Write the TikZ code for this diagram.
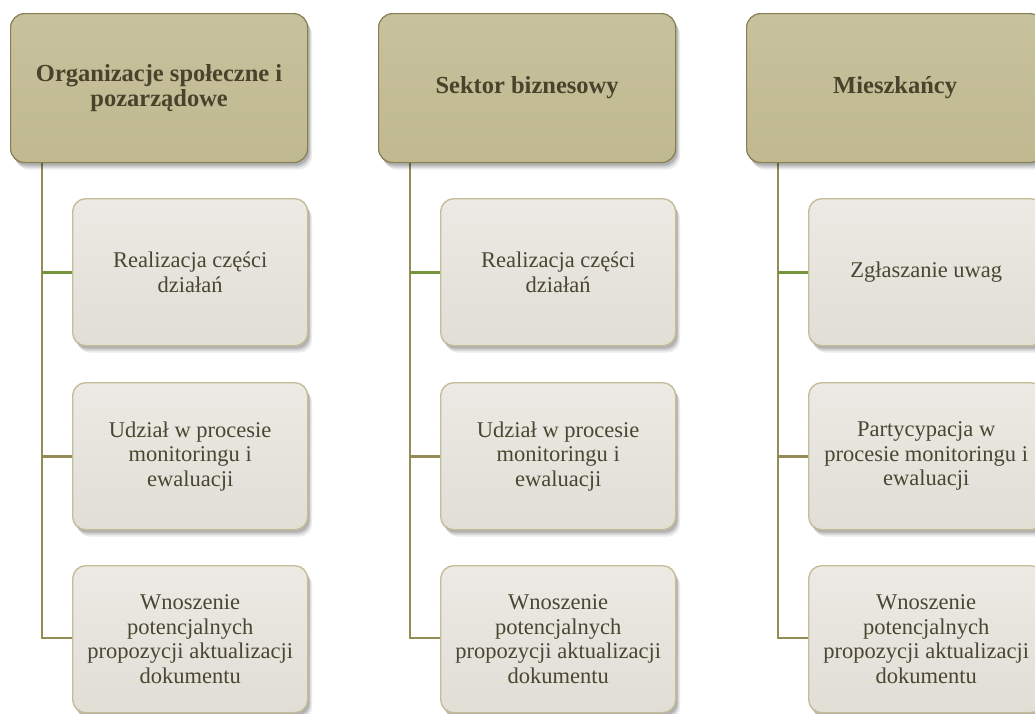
\documentclass[tikz,border=0pt]{standalone}
\usepackage{fontspec}
\setmainfont{Liberation Serif}
\usetikzlibrary{shadows}
\definecolor{headfill}{HTML}{C4BD97}
\definecolor{headtop}{HTML}{C7C19D}
\definecolor{headbot}{HTML}{C0B990}
\definecolor{headborder}{HTML}{857E50}
\definecolor{headtext}{HTML}{48432A}
\definecolor{childtop}{HTML}{EBEAE4}
\definecolor{childbot}{HTML}{E0DED5}
\definecolor{childborder}{HTML}{C4BD97}
\definecolor{childtext}{HTML}{4A4632}
\definecolor{conn}{HTML}{968C55}
\definecolor{conngreen}{HTML}{77933C}
\tikzset{
  softshadow/.style={
    drop shadow={shadow xshift=2pt,shadow yshift=-3pt,opacity=.14,fill=black},
    drop shadow={shadow xshift=3pt,shadow yshift=-5pt,opacity=.12,fill=black},
    drop shadow={shadow xshift=4.5pt,shadow yshift=-7pt,opacity=.08,fill=black}},
  headbox/.style={softshadow, rounded corners=14pt, top color=headtop, bottom color=headbot,
    draw=headborder, line width=1.2pt, minimum width=297pt, minimum height=149pt,
    anchor=north west, align=center, text=headtext, font=\fontsize{24.5}{25}\selectfont\bfseries},
  childbox/.style={softshadow, rounded corners=13pt, top color=childtop, bottom color=childbot,
    draw=childborder, line width=1.4pt, minimum width=235pt, minimum height=147pt,
    anchor=north west, align=center, text=childtext, font=\fontsize{22.5}{24.5}\selectfont},
  connline/.style={draw=conn, line width=2.6pt},
  conngreenline/.style={draw=conngreen, line width=2.6pt}
}
\begin{document}
\begin{tikzpicture}[x=1pt,y=-1pt]
\useasboundingbox (0,0) rectangle (1035,713);
\coordinate (v1) at (42,162);
\coordinate (v2) at (410,162);
\coordinate (v3) at (778,162);
\draw[connline] (v1) |- (72,638) coordinate (e1);
\draw[connline] (v2) |- (440,638) coordinate (e2);
\draw[connline] (v3) |- (808,638) coordinate (e3);

\node[headbox] (h1) at (10,13) {Organizacje społeczne i\\pozarządowe};
\node[headbox] (h2) at (378,13) {Sektor biznesowy};
\node[headbox] (h3) at (746,13) {Mieszkańcy};

\node[childbox] (c11) at (72,198) {Realizacja części\\działań};
\node[childbox] (c12) at (72,382) {Udział w procesie\\monitoringu i\\ewaluacji};
\node[childbox] (c13) at (72,565) {Wnoszenie\\potencjalnych\\propozycji aktualizacji\\dokumentu};

\node[childbox] (c21) at (440,198) {Realizacja części\\działań};
\node[childbox] (c22) at (440,382) {Udział w procesie\\monitoringu i\\ewaluacji};
\node[childbox] (c23) at (440,565) {Wnoszenie\\potencjalnych\\propozycji aktualizacji\\dokumentu};

\node[childbox] (c31) at (808,198) {Zgłaszanie uwag};
\node[childbox] (c32) at (808,382) {Partycypacja w\\procesie monitoringu i\\ewaluacji};
\node[childbox] (c33) at (808,565) {Wnoszenie\\potencjalnych\\propozycji aktualizacji\\dokumentu};

\draw[conngreenline] (c11.west -| v1) -- (c11.west);
\draw[connline] (c12.west -| v1) -- (c12.west);
\draw[conngreenline] (c21.west -| v2) -- (c21.west);
\draw[connline] (c22.west -| v2) -- (c22.west);
\draw[conngreenline] (c31.west -| v3) -- (c31.west);
\draw[connline] (c32.west -| v3) -- (c32.west);
\end{tikzpicture}
\end{document}
